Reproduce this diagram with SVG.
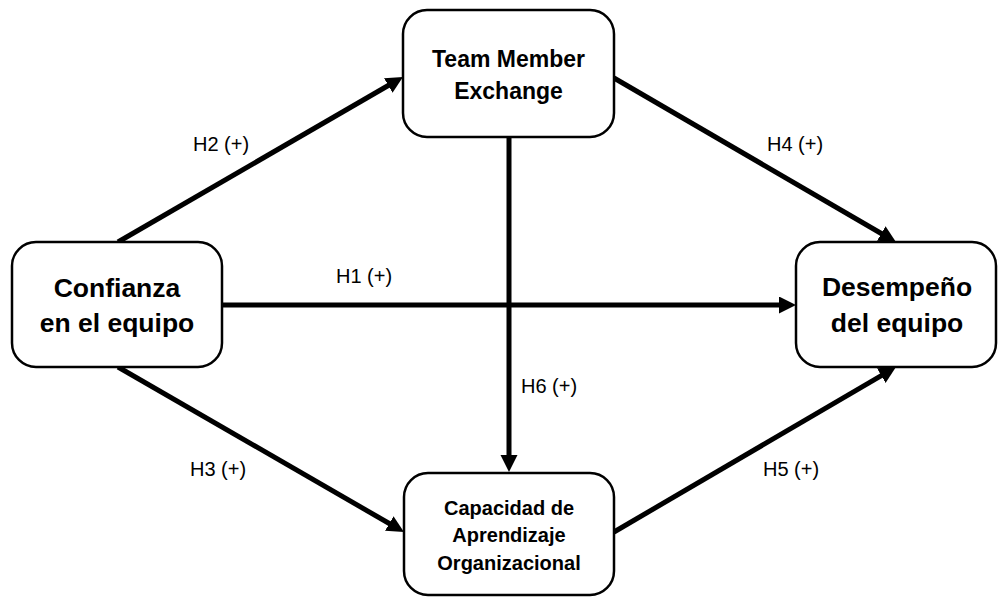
<svg xmlns="http://www.w3.org/2000/svg" width="999" height="598" viewBox="0 0 999 598">
  <style>
    .box { fill: #ffffff; stroke: #000000; stroke-width: 2.5; }
    .title { font-family: "Liberation Sans", Arial, sans-serif; font-weight: bold; fill: #000000; text-anchor: middle; }
    .edge { stroke: #000000; stroke-width: 5; fill: none; marker-end: url(#head); }
    .lbl { font-family: "Liberation Sans", Arial, sans-serif; font-size: 20px; fill: #000000; }
  </style>
  <defs>
    <marker id="head" markerUnits="userSpaceOnUse" markerWidth="19" markerHeight="19" refX="5" refY="8.5" orient="auto">
      <path d="M0,0 L17,8.5 L0,17 z" fill="#000000"/>
    </marker>
  </defs>
  <rect width="999" height="598" fill="#ffffff"/>

  <!-- connectors -->
  <g id="connectors">
    <line class="edge" x1="118" y1="242" x2="392.6" y2="83"/>
    <line class="edge" x1="614" y1="78" x2="885.6" y2="236"/>
    <line class="edge" x1="222" y1="305" x2="784" y2="305"/>
    <line class="edge" x1="509" y1="137" x2="509" y2="460"/>
    <line class="edge" x1="118" y1="367" x2="393.6" y2="526"/>
    <line class="edge" x1="614" y1="532" x2="885.6" y2="373.1"/>
    <text class="lbl" x="193" y="151">H2 (+)</text>
    <text class="lbl" x="767" y="151">H4 (+)</text>
    <text class="lbl" x="336" y="283">H1 (+)</text>
    <text class="lbl" x="521" y="393">H6 (+)</text>
    <text class="lbl" x="190" y="476">H3 (+)</text>
    <text class="lbl" x="763" y="476">H5 (+)</text>
  </g>

  <g id="confianza">
    <rect class="box" x="12" y="242" width="210" height="125" rx="24"/>
    <text class="title" font-size="26.5" x="117" y="297">Confianza</text>
    <text class="title" font-size="26.5" x="117" y="332">en el equipo</text>
  </g>

  <g id="tmx">
    <rect class="box" x="403" y="10" width="211" height="127" rx="24"/>
    <text class="title" font-size="23" x="508.5" y="67">Team Member</text>
    <text class="title" font-size="23" x="508.5" y="99">Exchange</text>
  </g>

  <g id="desempeno">
    <rect class="box" x="796" y="242" width="200" height="125" rx="24"/>
    <text class="title" font-size="26.5" x="897" y="296">Desempeño</text>
    <text class="title" font-size="26.5" x="897" y="332">del equipo</text>
  </g>

  <g id="capacidad">
    <rect class="box" x="404" y="473" width="210" height="122" rx="24"/>
    <text class="title" font-size="20" x="509" y="515">Capacidad de</text>
    <text class="title" font-size="20" x="509" y="542">Aprendizaje</text>
    <text class="title" font-size="20" x="509" y="570">Organizacional</text>
  </g>
</svg>
